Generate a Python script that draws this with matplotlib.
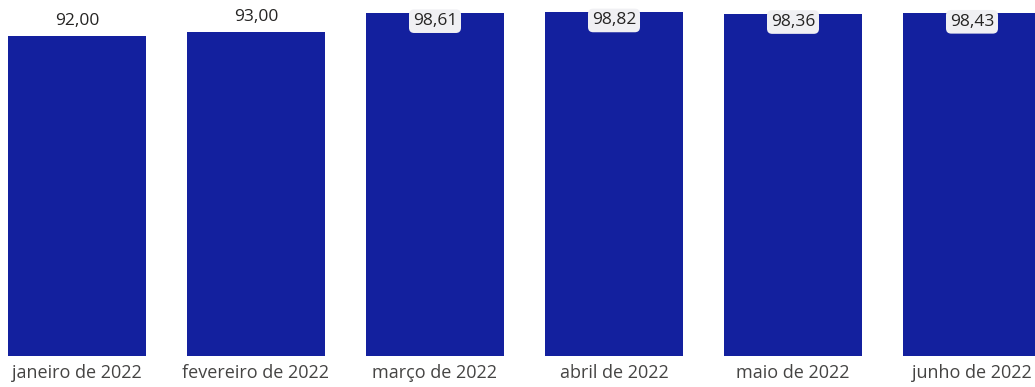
import matplotlib
matplotlib.use("Agg")
import matplotlib.pyplot as plt

categories = ["janeiro de 2022", "fevereiro de 2022", "março de 2022",
              "abril de 2022", "maio de 2022", "junho de 2022"]
values = [92.00, 93.00, 98.61, 98.82, 98.36, 98.43]
labels = ["92,00", "93,00", "98,61", "98,82", "98,36", "98,43"]

plt.rcParams['font.family'] = ['Open Sans', 'DejaVu Sans']

W, H = 1035, 387
fig = plt.figure(figsize=(W / 100, H / 100), dpi=100)
ax = fig.add_axes([0, (H - 356) / H, 1, 356 / H])

x = list(range(len(values)))
ax.bar(x, values, width=0.77, color="#13209E")
ax.set_xlim(-77 / 179, (1035 - 77) / 179)
ax.set_ylim(0, 356 / 3.48)

for xi, v, lab in zip(x, values, labels):
    if v > 95:
        ax.annotate(lab, xy=(xi, v), xytext=(0, -6.0), textcoords="offset points",
                    ha="center", va="center", fontsize=12.5, color="#252423",
                    bbox=dict(boxstyle="round,pad=0.22,rounding_size=0.3",
                              fc="#F0F0F3", ec="none"))
    else:
        ax.annotate(lab, xy=(xi, v), xytext=(0, 11), textcoords="offset points",
                    ha="center", va="center", fontsize=12.5, color="#252423")

ax.set_xticks(x)
ax.set_xticklabels(categories, fontsize=13, color="#454443")
ax.tick_params(axis="x", length=0, pad=6)
ax.set_yticks([])
for s in ax.spines.values():
    s.set_visible(False)

fig.savefig("out.png", dpi=100, facecolor="white")
